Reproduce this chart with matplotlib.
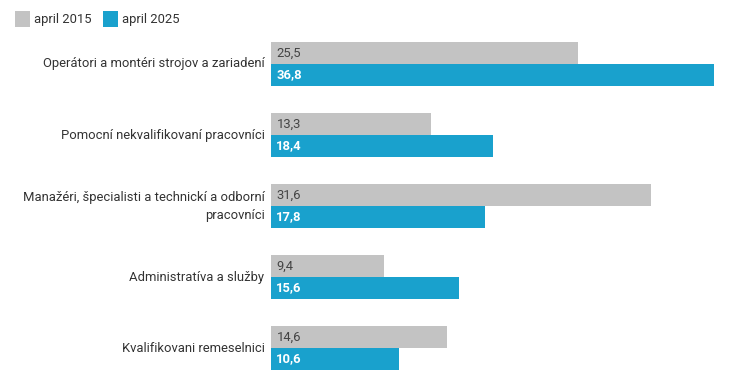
import matplotlib
matplotlib.use("Agg")
import matplotlib.pyplot as plt
from matplotlib.patches import Rectangle

plt.rcParams['font.family'] = ['Roboto', 'DejaVu Sans']

categories = [
    "Operátori a montéri strojov a zariadení",
    "Pomocní nekvalifikovaní pracovníci",
    "Manažéri, špecialisti a technickí a odborní\npracovníci",
    "Administratíva a služby",
    "Kvalifikovani remeselnici",
]
series_names = ["april 2015", "april 2025"]
values_2015 = [25.5, 13.3, 31.6, 9.4, 14.6]
values_2025 = [36.8, 18.4, 17.8, 15.6, 10.6]

c_gray = "#c3c3c3"
c_blue = "#19a1cd"

W, H = 730, 380
fig = plt.figure(figsize=(W / 100, H / 100), dpi=100)
left, right, top, bottom = 271, 714, 42, 370
ax = fig.add_axes([left / W, 1 - bottom / H, (right - left) / W, (bottom - top) / H])

h = 22 / 71
ys = list(range(len(categories)))
ax.barh([y - h / 2 for y in ys], values_2015, height=h, color=c_gray, linewidth=0)
ax.barh([y + h / 2 for y in ys], values_2025, height=h, color=c_blue, linewidth=0)

ax.set_xlim(0, 36.8)
ax.set_ylim(len(categories) - 1 + h, -h)

def fmt(v):
    return f"{v:.1f}".replace(".", ",")

fs = 9.4
for y, v in zip(ys, values_2015):
    ax.text(0.45, y - h / 2, fmt(v), va="center", ha="left", fontsize=fs, color="#444444")
for y, v in zip(ys, values_2025):
    ax.text(0.45, y + h / 2, fmt(v), va="center", ha="left", fontsize=fs, color="white", fontweight="bold")

for y, c in zip(ys, categories):
    ax.text(-0.55, y, c, va="center", ha="right", fontsize=fs, color="#333333", linespacing=1.5)

ax.axis("off")

# legend
for x0, col, lab in [(15, c_gray, series_names[0]), (103, c_blue, series_names[1])]:
    fig.patches.append(Rectangle((x0 / W, 1 - 27 / H), 15 / W, 16 / H, transform=fig.transFigure,
                                 color=col, linewidth=0))
    fig.text((x0 + 19) / W, 1 - 19 / H, lab, va="center", ha="left", fontsize=fs, color="#333333")

fig.savefig("out.png", dpi=100)
